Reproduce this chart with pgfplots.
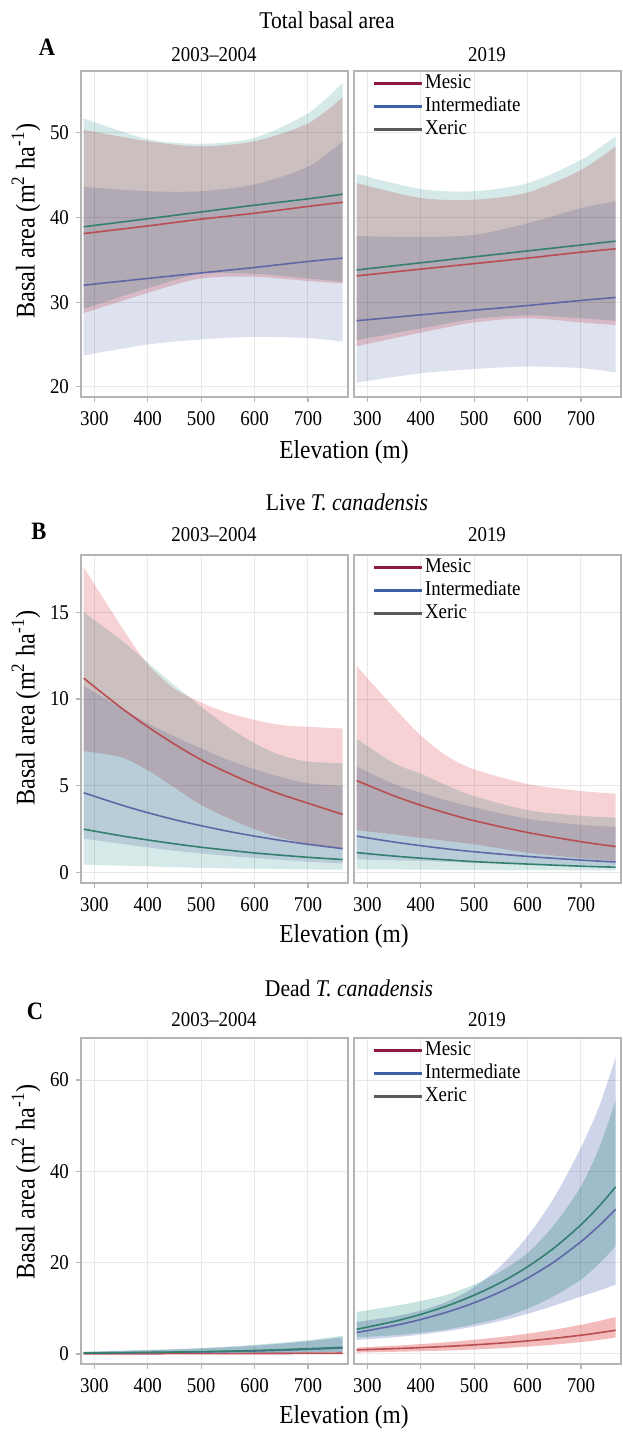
\documentclass[border=0pt]{standalone}
\usepackage{fontspec}
\setmainfont{Liberation Serif}[FakeStretch=0.9]
\usepackage{pgfplots}
\pgfplotsset{compat=1.18}
\usepackage{pgfplotstable}
\usepgfplotslibrary{fillbetween}

\definecolor{pinkF}{RGB}{246,210,212}
\definecolor{lavF}{RGB}{222,225,238}
\definecolor{tealF}{RGB}{212,233,232}
\definecolor{pinkC}{RGB}{243,188,188}
\definecolor{lavC}{RGB}{206,212,233}
\definecolor{tealC}{RGB}{198,227,223}
\definecolor{mesicL}{RGB}{184,77,82}
\definecolor{interL}{RGB}{95,103,166}
\definecolor{xericL}{RGB}{51,128,111}
\definecolor{mesicK}{RGB}{142,27,62}
\definecolor{interK}{RGB}{59,98,165}
\definecolor{xericK}{RGB}{90,90,90}
\definecolor{gridC}{RGB}{233,233,233}
\definecolor{frameC}{RGB}{180,180,180}

% total basal area, 2003-2004
\pgfplotstableread{
x   mlo  m     mhi   ilo   i     ihi  xlo   xm    xhi
280 28.7 38.1  50.35 23.7  32.0  43.6 29.2  38.9  51.7
400 31.1 39.0  49.0  25.0  32.8  43.1 31.65 39.85 49.25
500 32.8 39.8  48.4  25.6  33.45 43.1 33.35 40.65 48.7
600 33.0 40.5  49.0  25.9  34.1  43.9 33.35 41.45 49.4
700 32.5 41.3  51.1  25.75 34.8  46.0 32.8  42.2  52.3
765 32.2 41.8  54.2  25.35 35.2  49.0 32.4  42.75 55.9
}\tAa
% total basal area, 2019
\pgfplotstableread{
x   mlo  m     mhi   ilo  i     ihi   xlo   xm    xhi
280 24.8 33.1  44.05 20.5 27.8  37.8  25.5  33.8  45.15
400 26.4 33.9  42.3  21.6 28.5  37.7  26.9  34.65 43.35
500 27.6 34.55 42.1  22.1 29.05 37.95 28.0  35.35 43.1
600 28.1 35.2  42.95 22.4 29.6  39.3  28.45 36.05 44.05
700 27.6 35.9  45.6  22.2 30.2  41.1  28.1  36.75 46.8
765 27.3 36.3  48.4  21.7 30.55 41.9  27.8  37.2  49.6
}\tAb
% live T. canadensis, 2003-2004
\pgfplotstableread{
x   mlo  m     mhi   ilo   i    ihi   xlo  xm   xhi
280 7.0  11.2  17.6  1.96  4.6  10.75 0.46 2.5  15.0
350 6.65 9.5   14.2  1.66  3.9  9.5   0.40 2.12 13.4
400 5.9  8.4   12.0  1.45  3.45 8.6   0.36 1.88 12.1
450 4.9  7.4   10.6  1.26  3.05 7.85  0.31 1.66 10.8
500 3.9  6.5   9.8   1.1   2.7  7.15  0.27 1.46 9.55
550 3.15 5.75  9.2   0.96  2.38 6.5   0.24 1.29 8.4
600 2.5  5.08  8.8   0.84  2.1  5.95  0.22 1.13 7.45
650 2.0  4.5   8.5   0.73  1.85 5.5   0.20 1.0  6.75
700 1.65 4.0   8.4   0.63  1.63 5.15  0.18 0.88 6.4
765 1.4  3.35  8.3   0.52  1.38 5.0   0.17 0.75 6.3
}\tBa
% live T. canadensis, 2019
\pgfplotstableread{
x   mlo  m     mhi   ilo   i    ihi  xlo  xm   xhi
280 2.45 5.3   11.9  0.77  2.1  6.1  0.19 1.15 7.7
350 2.2  4.42  9.5   0.7   1.76 5.1  0.18 0.95 6.3
400 2.0  3.88  7.9   0.67  1.55 4.6  0.17 0.83 5.7
450 1.82 3.41  6.7   0.61  1.36 4.15 0.16 0.73 5.0
500 1.63 2.99  5.95  0.56  1.20 3.75 0.15 0.63 4.4
600 1.15 2.31  5.1   0.48  0.93 3.1  0.14 0.49 3.6
700 0.83 1.78  4.7   0.42  0.72 2.75 0.13 0.37 3.27
765 0.67 1.5   4.55  0.38  0.61 2.63 0.12 0.31 3.17
}\tBb
% dead T. canadensis, 2003-2004
\pgfplotstableread{
x   mlo  m    mhi  ilo  i    ihi  xlo  xm   xhi
280 0.0  0.03 0.1  0.05 0.18 0.45 0.06 0.2  0.5
400 0.0  0.05 0.15 0.08 0.30 0.8  0.1  0.35 0.9
500 0.01 0.07 0.2  0.12 0.45 1.2  0.15 0.5  1.3
600 0.01 0.09 0.28 0.18 0.65 1.8  0.22 0.75 2.0
700 0.02 0.12 0.4  0.3  1.0  2.8  0.33 1.15 3.0
765 0.03 0.15 0.5  0.4  1.3  3.6  0.42 1.45 4.0
}\tCa
% dead T. canadensis, 2019
\pgfplotstableread{
x   mlo  m    mhi  ilo  i     ihi  xlo  xm    xhi
280 0.3  0.9  1.4  3.05 4.7   7.0  3.6  5.4   9.2
350 0.47 1.16 1.8  3.65 6.2   8.2  4.1  7.12  10.5
400 0.6  1.39 2.16 4.25 7.55  9.5  4.65 8.67  11.6
450 0.76 1.66 2.59 5.0  9.2   11.5 5.4  10.56 13.0
500 0.97 1.99 3.1  6.0  11.2  14.6 6.5  12.87 15.2
550 1.25 2.39 3.71 7.25 13.65 19.3 7.9  15.67 18.1
600 1.6  2.86 4.45 8.8  16.6  25.8 9.9  19.09 22.1
650 2.05 3.43 5.33 10.6 20.2  34.3 12.7 23.25 28.3
700 2.6  4.1  6.38 12.6 24.6  45.2 16.3 28.3  36.7
735 3.08 4.66 7.26 13.9 28.2  54.5 19.9 32.5  45.4
765 3.6  5.19 8.1  15.2 31.7  65.0 23.6 36.6  55.6
}\tCb

% bands and fitted lines of one panel: table, prefix, three fill colours
\newcommand{\bands}[5]{%
  \addplot[draw=none, smooth, forget plot, name path=#2mlo] table[x=x,y=mlo]{#1};
  \addplot[draw=none, smooth, forget plot, name path=#2mhi] table[x=x,y=mhi]{#1};
  \addplot[draw=none, smooth, forget plot, name path=#2ilo] table[x=x,y=ilo]{#1};
  \addplot[draw=none, smooth, forget plot, name path=#2ihi] table[x=x,y=ihi]{#1};
  \addplot[draw=none, smooth, forget plot, name path=#2xlo] table[x=x,y=xlo]{#1};
  \addplot[draw=none, smooth, forget plot, name path=#2xhi] table[x=x,y=xhi]{#1};
  \addplot[fill=#3, draw=none, blend mode=multiply, forget plot] fill between[of=#2mhi and #2mlo];
  \addplot[fill=#4, draw=none, blend mode=multiply, forget plot] fill between[of=#2ihi and #2ilo];
  \addplot[fill=#5, draw=none, blend mode=multiply, forget plot] fill between[of=#2xhi and #2xlo];
  \addplot[mesicL, line width=0.8pt, smooth, forget plot] table[x=x,y=m]{#1};
  \addplot[interL, line width=0.8pt, smooth, forget plot] table[x=x,y=i]{#1};
  \addplot[xericL, line width=0.8pt, smooth, forget plot] table[x=x,y=xm]{#1};
}

\pgfplotsset{
  panel/.style={
    scale only axis, width=133.5pt, height=163pt, anchor=south west,
    xmin=275, xmax=775, xtick={300,400,500,600,700},
    grid=major, major grid style={draw=gridC, line width=0.5pt},
    axis line style={draw=frameC, line width=0.8pt},
    tick align=outside, major tick length=2.5pt,
    xtick style={draw=frameC, line width=0.6pt},
    ytick style={draw=frameC, line width=0.6pt},
    xtick pos=bottom, ytick pos=left,
    tick label style={font=\fontsize{10.5}{12}\selectfont},
    xticklabel style={yshift=-1pt},
    /pgf/number format/assume math mode=true,
  },
  rpanel/.style={panel, yticklabels={}, ytick style={draw=none},
    legend style={at={(rel axis cs:0,1)}, anchor=north west, xshift=9pt, yshift=-1.5pt,
      draw=none, fill=none, inner sep=0pt, row sep=2.5pt,
      font=\fontsize{10.5}{12}\selectfont,
      nodes={inner xsep=1pt, inner ysep=0pt, text height=7pt, text depth=2pt}},
    legend cell align=left,
    legend image code/.code={\draw[##1, line width=1.3pt] (0pt,0pt) -- (24pt,0pt);},
  },
}

\newcommand{\legendrows}{%
  \addlegendimage{mesicK}\addlegendentry{Mesic}
  \addlegendimage{interK}\addlegendentry{Intermediate}
  \addlegendimage{xericK}\addlegendentry{Xeric}
}

\begin{document}
\begin{tikzpicture}
\path (0,0) rectangle (311pt,716.5pt);

% ---- A: total basal area
\begin{axis}[panel, at={(40.5pt,518pt)}, ymin=18.8, ymax=57.3, ytick={20,30,40,50}]
\bands{\tAa}{a}{pinkF}{lavF}{tealF}
\end{axis}
\begin{axis}[rpanel, at={(177pt,518pt)}, ymin=18.8, ymax=57.3, ytick={20,30,40,50}]
\legendrows
\bands{\tAb}{b}{pinkF}{lavF}{tealF}
\end{axis}

% ---- B: live T. canadensis
\begin{axis}[panel, at={(40.5pt,275pt)}, height=164pt, ymin=-0.6, ymax=18.3, ytick={0,5,10,15}]
\bands{\tBa}{c}{pinkF}{lavF}{tealF}
\end{axis}
\begin{axis}[rpanel, at={(177pt,275pt)}, height=164pt, ymin=-0.6, ymax=18.3, ytick={0,5,10,15}]
\legendrows
\bands{\tBb}{d}{pinkF}{lavF}{tealF}
\end{axis}

% ---- C: dead T. canadensis
\begin{axis}[panel, at={(40.5pt,34.5pt)}, ymin=-2.2, ymax=69.2, ytick={0,20,40,60}]
\bands{\tCa}{e}{pinkC}{lavC}{tealC}
\end{axis}
\begin{axis}[rpanel, at={(177pt,34.5pt)}, ymin=-2.2, ymax=69.2, ytick={0,20,40,60}]
\legendrows
\bands{\tCb}{f}{pinkC}{lavC}{tealC}
\end{axis}

% titles, panel letters, strip labels, axis titles
\begin{scope}[every node/.style={inner sep=0pt}]
\node[font=\fontsize{12}{14}\selectfont] at (163.5pt,706.5pt) {Total basal area};
\node[font=\fontsize{12}{14}\selectfont] at (173.5pt,465.5pt) {Live \textit{T. canadensis}};
\node[font=\fontsize{12}{14}\selectfont] at (174.5pt,222.5pt) {Dead \textit{T. canadensis}};
\node[font=\fontsize{12.5}{14}\selectfont\bfseries] at (23.5pt,693pt) {A};
\node[font=\fontsize{12.5}{14}\selectfont\bfseries] at (19.5pt,451pt) {B};
\node[font=\fontsize{12.5}{14}\selectfont\bfseries] at (17.5pt,211pt) {C};
\foreach \yy in {689,449,206.5} {
  \node[font=\fontsize{10.5}{12}\selectfont] at (107pt,\yy pt) {2003--2004};
  \node[font=\fontsize{10.5}{12}\selectfont] at (243.5pt,\yy pt) {2019};
}
\foreach \yy in {490.5,248.5,8} {
  \node[font=\fontsize{13}{15}\selectfont] at (172pt,\yy pt) {Elevation (m)};
}
\foreach \yy in {606,362.5,125.5} {
  \node[font=\fontsize{13.5}{15}\selectfont, rotate=90] at (13pt,\yy pt) {Basal area (m\textsuperscript{2} ha\textsuperscript{-1})};
}
\end{scope}
\end{tikzpicture}
\end{document}
